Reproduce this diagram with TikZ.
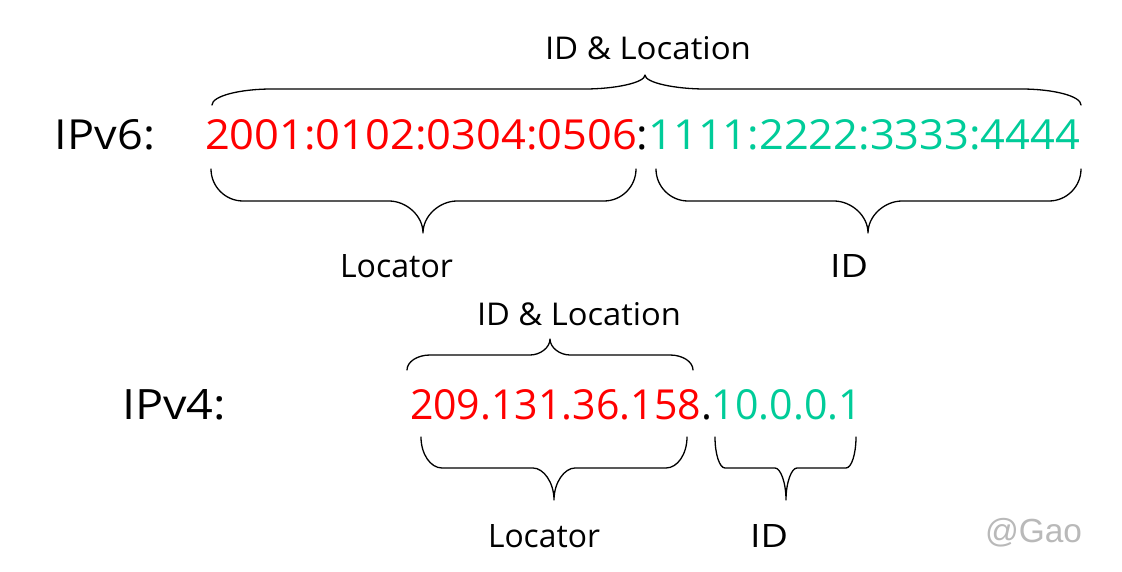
\documentclass[tikz,border=0pt]{standalone}
\usepackage{fontspec}
\usepackage{graphicx}
\setmainfont{Open Sans}
\newfontfamily\gaofont{Liberation Sans}
\definecolor{addrred}{RGB}{255,0,0}
\definecolor{addrgreen}{RGB}{0,204,153}
\definecolor{gaogray}{RGB}{185,185,185}
\tikzset{
  txt/.style={inner sep=0pt, outer sep=0pt, anchor=base west, text=black},
  bracestroke/.style={draw=black, line width=1.3pt, line join=round, line cap=round},
}
% #1 x-left  #2 x-right  #3 y-end  #4 y-line  #5 x-tip  #6 y-tip  #7 corner width  #8 tip width
\newcommand\curlybr[8]{%
  \draw[bracestroke] (#1,#3)
    .. controls (#1,{#3+0.55*(#4-#3)}) and ({#1+0.45*#7},#4) .. ({#1+#7},#4)
    -- ({#5-#8},#4)
    .. controls ({#5-0.5*#8},#4) and (#5,{#4+0.45*(#6-#4)}) .. (#5,#6)
    .. controls (#5,{#4+0.45*(#6-#4)}) and ({#5+0.5*#8},#4) .. ({#5+#8},#4)
    -- ({#2-#7},#4)
    .. controls ({#2-0.45*#7},#4) and (#2,{#3+0.55*(#4-#3)}) .. (#2,#3);%
}
\begin{document}
\begin{tikzpicture}[x=1pt,y=-1pt]
\useasboundingbox[fill=white] (0,0) rectangle (1122,572);

% ---------- IPv6 ----------
\node[txt] (top6) at (545,60) {\resizebox{206pt}{23pt}{ID \& Location}};
\node[txt] (ipv6) at (55,150) {\resizebox{100pt}{30pt}{IPv6:}};
\node[txt] (addr6) at (205,150) {\resizebox{875pt}{30pt}{\textcolor{addrred}{2001:0102:0304:0506}:\textcolor{addrgreen}{1111:2222:3333:4444}}};
\node[txt] (loc6) at (340,278) {\resizebox{113pt}{23pt}{Locator}};
\node[txt] (id6) at (830,278) {\resizebox{38pt}{23pt}{ID}};

\curlybr{212}{1081}{105}{89}{645}{75}{60}{60}
\curlybr{211}{636}{169}{201}{423}{233}{32}{34}
\curlybr{656}{1081}{169}{201}{868}{233}{32}{34}

% ---------- IPv4 ----------
\node[txt] (top4) at (477,325) {\resizebox{204pt}{23pt}{ID \& Location}};
\node[txt] (ipv4) at (122,419) {\resizebox{104pt}{30pt}{IPv4:}};
\node[txt] (addr4) at (410,419) {\resizebox{452pt}{30pt}{\textcolor{addrred}{209.131.36.158}.\textcolor{addrgreen}{10.0.0.1}}};
\node[txt] (loc4) at (488,547) {\resizebox{112pt}{23pt}{Locator}};
\node[txt] (id4) at (750,547) {\resizebox{38pt}{23pt}{ID}};

\curlybr{407}{693}{370}{355}{550}{339}{23}{20}
\curlybr{421}{687}{437}{468}{554}{500}{21}{21}
\curlybr{715}{856}{437}{468}{786}{500}{10}{11}

% ---------- watermark ----------
\node[txt, text=gaogray] (gao) at (985,542) {\resizebox{97pt}{!}{\gaofont @Gao}};
\end{tikzpicture}
\end{document}
